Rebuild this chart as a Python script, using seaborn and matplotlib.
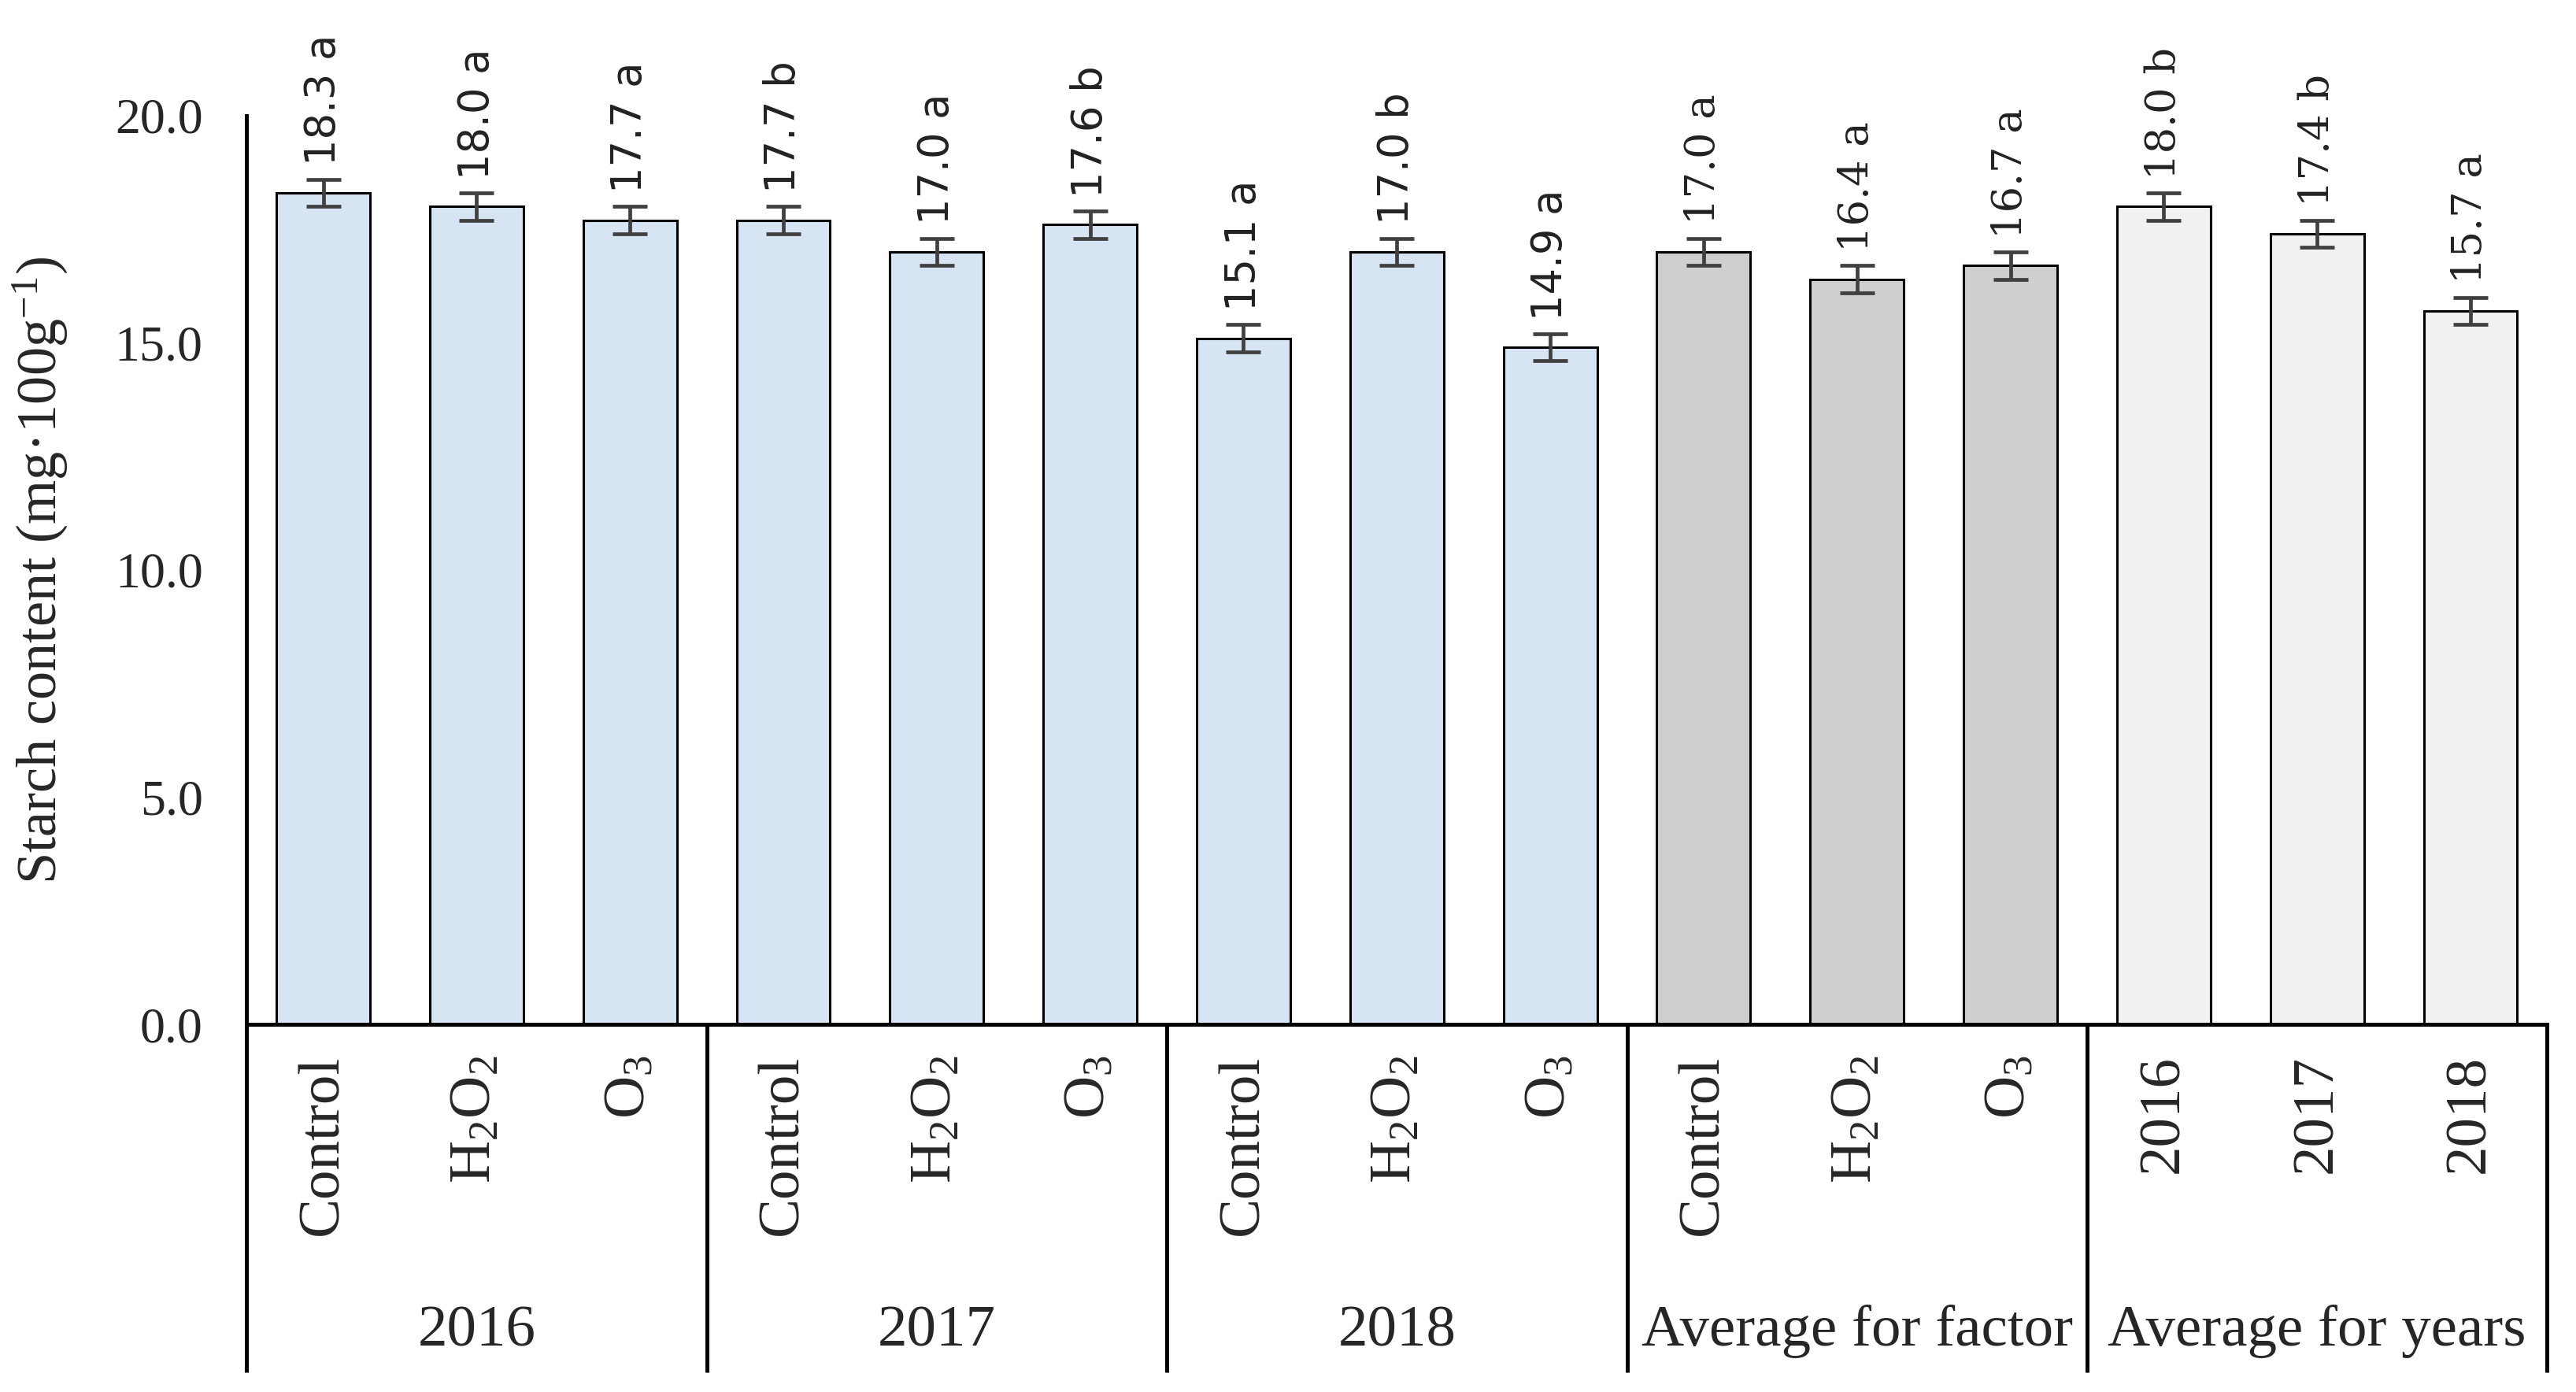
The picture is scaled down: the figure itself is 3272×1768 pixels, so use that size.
import matplotlib
matplotlib.use("Agg")
import matplotlib.pyplot as plt
import matplotlib.transforms as mtransforms
import seaborn as sns
import pandas as pd

# ---- data ----
groups = ["2016", "2017", "2018", "Average for factor", "Average for years"]
categories = [
    ["Control", "H2O2", "O3"],
    ["Control", "H2O2", "O3"],
    ["Control", "H2O2", "O3"],
    ["Control", "H2O2", "O3"],
    ["2016", "2017", "2018"],
]
values = [18.3, 18.0, 17.7, 17.7, 17.0, 17.6, 15.1, 17.0, 14.9, 17.0, 16.4, 16.7, 18.0, 17.4, 15.7]
letters = ["a", "a", "a", "b", "a", "b", "a", "b", "a", "a", "a", "a", "b", "b", "a"]
errors = [0.3] * 15
group_colors = ["#D7E4F4", "#D7E4F4", "#D7E4F4", "#D0CECE", "#F1F1F1"]

display_names = {"H2O2": r"H$_2$O$_2$", "O3": r"O$_3$"}

keys, cats, grps, colors = [], [], [], []
for g, cl, col in zip(groups, categories, group_colors):
    for c in cl:
        keys.append(f"{g}|{c}")
        cats.append(display_names.get(c, c))
        grps.append(g)
        colors.append(col)
df = pd.DataFrame({"key": keys, "value": values, "group": grps})

sns.set_style("white")
plt.rcParams["font.family"] = ["Liberation Serif", "DejaVu Serif"]
plt.rcParams["mathtext.fontset"] = "custom"
plt.rcParams["mathtext.rm"] = "Liberation Serif"
plt.rcParams["mathtext.it"] = "Liberation Serif:italic"

fig = plt.figure(figsize=(16.365, 8.84), dpi=200)
ax = fig.add_axes([0.0957, 0.264, 0.8928, 0.653])

sns.barplot(data=df, x="key", y="value", hue="key", order=keys, hue_order=keys,
            palette=dict(zip(keys, colors)), saturation=1, width=0.61,
            edgecolor="black", linewidth=1.1, legend=False, errorbar=None, ax=ax)

xs = list(range(len(keys)))
ax.errorbar(xs, values, yerr=errors, fmt="none", ecolor="#404040",
            elinewidth=1.7, capsize=8, capthick=1.7, zorder=5)

for i, (v, e, l) in enumerate(zip(values, errors, letters)):
    fam = ["DejaVu Sans"] if i < 9 else ["DejaVu Serif"]
    ax.text(i, v + e + 0.3, f"{v:.1f} {l}", rotation=90, ha="center", va="bottom",
            fontsize=19, family=fam, color="#222222")

ax.set_xlim(-0.5, len(keys) - 0.5)
ax.set_ylim(0, 20)
ax.set_yticks([0, 5, 10, 15, 20])
ax.set_yticklabels([f"{t:.1f}" for t in [0, 5, 10, 15, 20]], fontsize=23)
ax.tick_params(axis="y", length=0, pad=20)
ax.set_xticks(xs)
ax.set_xticklabels(cats, rotation=90, fontsize=27, va="top")
ax.tick_params(axis="x", length=0, pad=14)
ax.set_xlabel("")
ax.set_ylabel(r"Starch content (mg·100g$^{-1}$)", fontsize=26)
ax.yaxis.set_label_coords(-0.077, 0.5)

for s in ["top", "right"]:
    ax.spines[s].set_visible(False)
ax.spines["left"].set_linewidth(1.8)
ax.spines["bottom"].set_linewidth(1.8)
ax.spines["left"].set_color("black")
ax.spines["bottom"].set_color("black")

trans = mtransforms.blended_transform_factory(ax.transData, ax.transAxes)
bottom_y = -0.383
start = -0.5
for g, cl in zip(groups, categories):
    end = start + len(cl)
    ax.text((start + end) / 2, -0.338, g, transform=trans, ha="center", va="center",
            fontsize=27)
    start = end
seps = [-0.5]
acc = -0.5
for cl in categories:
    acc += len(cl)
    seps.append(acc)
for s in seps:
    ax.plot([s, s], [0, bottom_y], transform=trans, color="black", lw=1.8,
            clip_on=False, solid_capstyle="butt")

fig.savefig("out.png", dpi=200)
